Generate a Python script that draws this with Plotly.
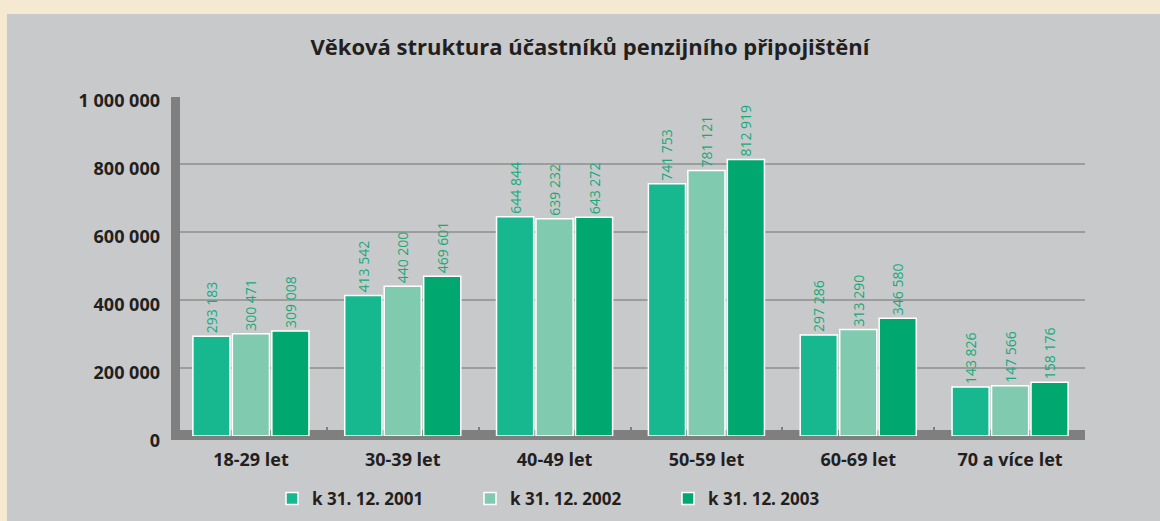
import plotly.graph_objects as go

categories = ["18-29 let", "30-39 let", "40-49 let", "50-59 let", "60-69 let", "70 a více let"]
series_names = ["k 31. 12. 2001", "k 31. 12. 2002", "k 31. 12. 2003"]
values_2001 = [293183, 413542, 644844, 741753, 297286, 143826]
values_2002 = [300471, 440200, 639232, 781121, 313290, 147566]
values_2003 = [309008, 469601, 643272, 812919, 346580, 158176]
colors = ["#17b78f", "#80cbb0", "#00a870"]
y_ticks = [0, 200000, 400000, 600000, 800000, 1000000]
y_ticktext = ["0", "200 000", "400 000", "600 000", "800 000", "1 000 000"]

def fmt(v):
    return f"{v:,}".replace(",", " ")

FONT = "Open Sans"
fig = go.Figure()
for name, vals, col in zip(series_names, [values_2001, values_2002, values_2003], colors):
    fig.add_trace(go.Bar(
        x=categories, y=vals, name=name,
        marker=dict(color=col, line=dict(color="white", width=1.5)),
        text=[fmt(v) for v in vals], textposition="outside", textangle=-90,
        constraintext="none",
        textfont=dict(color="#17a979", size=14, family=FONT),
        cliponaxis=False,
    ))

W, H = 1160, 521
L, R, T, B = 175, 74, 96, 85
pw, ph = W - L - R, H - T - B

def px(p):
    return (p - L) / pw

def py(p):
    return (H - B - p) / ph

shapes = []
shapes.append(dict(type="rect", xref="paper", yref="paper", x0=px(0), x1=px(7), y0=py(H), y1=py(0),
                   fillcolor="#f6e9d2", line=dict(width=0), layer="below"))
shapes.append(dict(type="rect", xref="paper", yref="paper", x0=px(0), x1=px(W), y0=py(14), y1=py(0),
                   fillcolor="#f6e9d2", line=dict(width=0), layer="below"))
for v in y_ticks[1:-1]:
    shapes.append(dict(type="line", xref="paper", yref="y", x0=px(180), x1=px(1085), y0=v, y1=v,
                       line=dict(color="#8c8c8c", width=1.5), layer="below"))
shapes.append(dict(type="rect", xref="paper", yref="paper", x0=px(171), x1=px(180), y0=py(440), y1=py(97),
                   fillcolor="#7f7f80", line=dict(width=0), layer="below"))
shapes.append(dict(type="rect", xref="paper", yref="paper", x0=px(171), x1=px(1085), y0=py(440), y1=py(430),
                   fillcolor="#7f7f80", line=dict(width=0), layer="below"))

fig.update_layout(
    width=W, height=H,
    margin=dict(l=L, r=R, t=T, b=B, autoexpand=False),
    paper_bgcolor="#c8c9cb", plot_bgcolor="rgba(0,0,0,0)",
    font=dict(family=FONT, color="#231f20"),
    title=dict(text="Věková struktura účastníků penzijního připojištění",
               x=590 / W, xref="container", xanchor="center", y=1 - 47 / H, yanchor="middle",
               font=dict(size=22, color="#231f20", weight="bold", family=FONT)),
    barmode="group", bargap=0.22, bargroupgap=0.06,
    showlegend=True,
    legend=dict(orientation="h", x=px(272), xanchor="left", y=py(499), yanchor="middle",
                font=dict(size=17, color="#231f20", family=FONT, weight="bold"),
                entrywidth=153, entrywidthmode="pixels", bgcolor="rgba(0,0,0,0)"),
    shapes=shapes,
    xaxis=dict(showgrid=False, showline=False, zeroline=False, automargin=False,
               tickson="boundaries", ticks="inside", ticklen=9, tickwidth=2, tickcolor="#7f7f80",
               tickfont=dict(size=18, family=FONT, color="#231f20", weight="bold"),
               ticklabelstandoff=11),
    yaxis=dict(range=[0, 1000000], tickvals=y_ticks, ticktext=y_ticktext, showgrid=False,
               zeroline=False, showline=False, ticks="", automargin=False,
               tickfont=dict(size=18, family=FONT, color="#231f20", weight="bold"),
               ticklabelstandoff=14, ticklabelshift=5),
)
fig.write_html("out.html", config={"displayModeBar": False},
               post_script="document.body.style.margin='0';document.body.style.padding='0';")
